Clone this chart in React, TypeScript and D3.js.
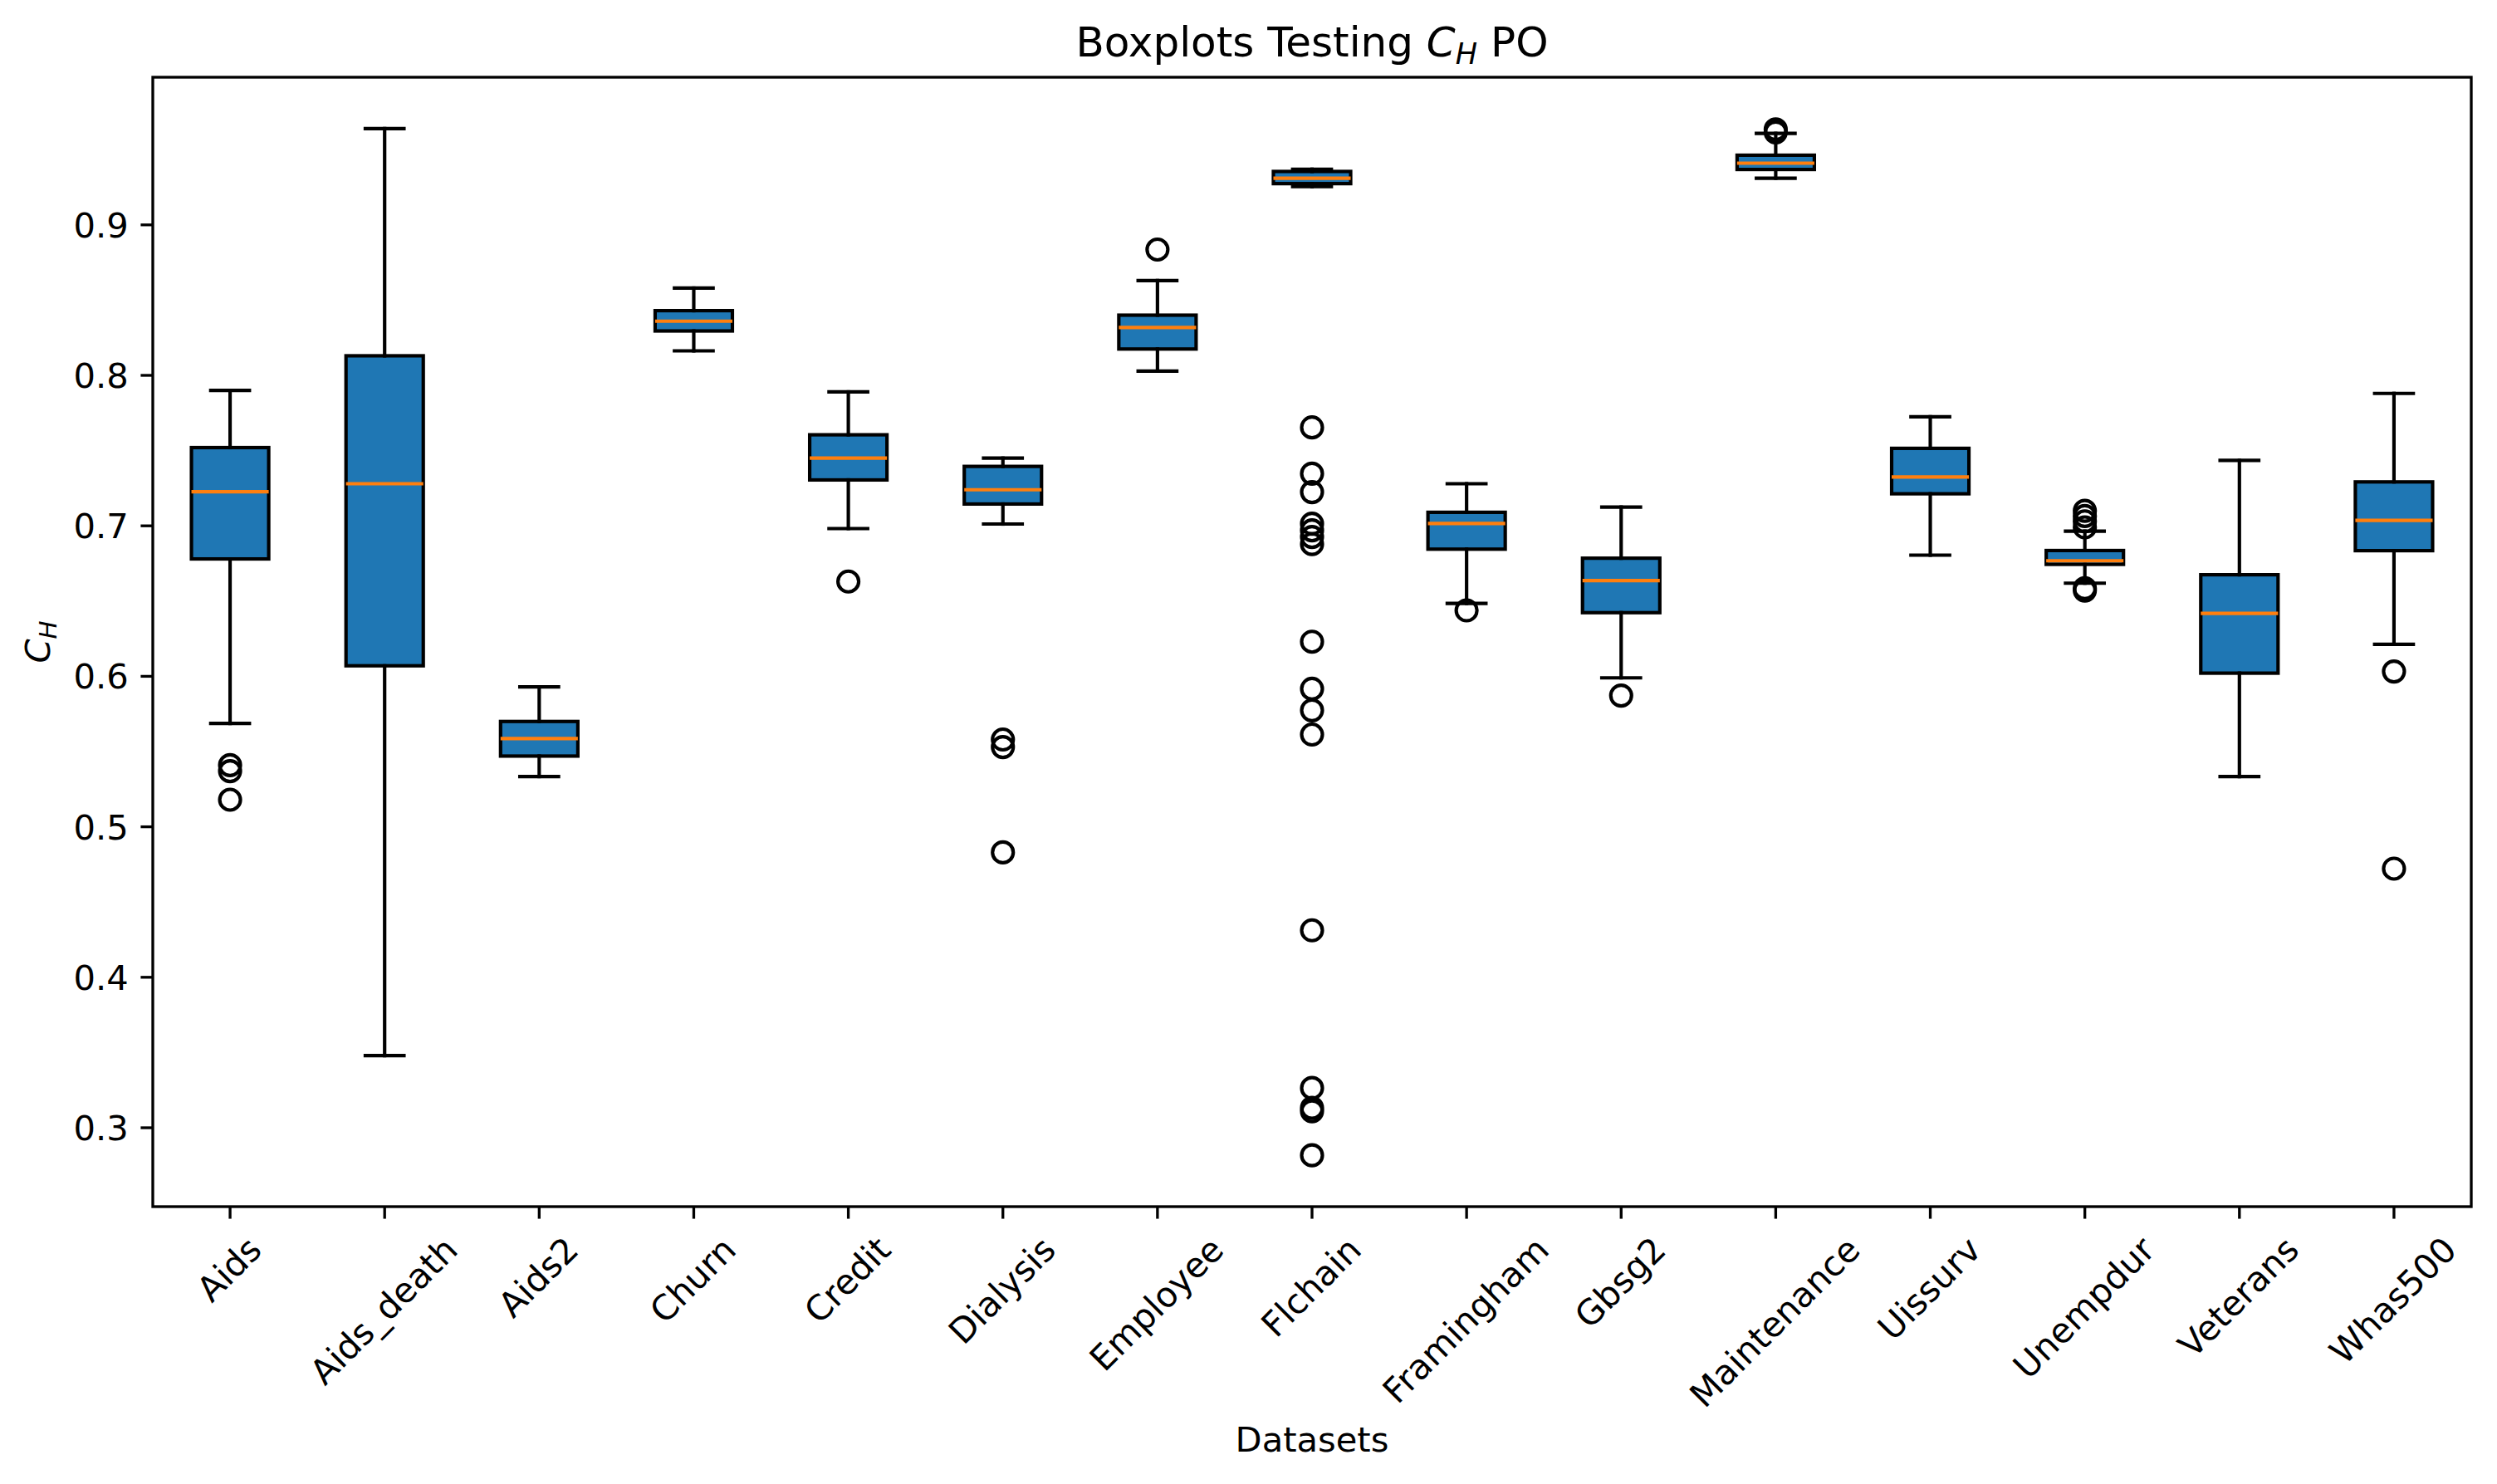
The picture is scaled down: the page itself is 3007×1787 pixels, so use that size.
import React from 'react';
import * as d3 from 'd3';

const categories = ['Aids', 'Aids_death', 'Aids2', 'Churn', 'Credit', 'Dialysis', 'Employee', 'Flchain', 'Framingham', 'Gbsg2', 'Maintenance', 'Uissurv', 'Unempdur', 'Veterans', 'Whas500'];
const whiskerHigh = [0.790, 0.964, 0.593, 0.858, 0.789, 0.745, 0.863, 0.937, 0.728, 0.7125, 0.9608, 0.7725, 0.6965, 0.7435, 0.788];
const q3 = [0.752, 0.813, 0.570, 0.843, 0.7605, 0.7395, 0.840, 0.9355, 0.709, 0.6785, 0.9463, 0.7515, 0.6836, 0.6675, 0.7292];
const median = [0.7227, 0.728, 0.5586, 0.836, 0.745, 0.724, 0.8318, 0.931, 0.7016, 0.6636, 0.941, 0.7325, 0.6768, 0.6418, 0.7036];
const q1 = [0.678, 0.607, 0.547, 0.8295, 0.7305, 0.7145, 0.8175, 0.9274, 0.6845, 0.6423, 0.9368, 0.7213, 0.6744, 0.6021, 0.6835];
const whiskerLow = [0.5687, 0.348, 0.5334, 0.8163, 0.6982, 0.7012, 0.8028, 0.9254, 0.6484, 0.599, 0.931, 0.6805, 0.6619, 0.5334, 0.6213];
const outliers = [
  [0.541, 0.537, 0.518],
  [],
  [],
  [],
  [0.663],
  [0.558, 0.553, 0.483],
  [0.8836],
  [0.7654, 0.7347, 0.7224, 0.7014, 0.697, 0.6926, 0.6879, 0.623, 0.5917, 0.5774, 0.5613, 0.4312, 0.3264, 0.3132, 0.311, 0.2817],
  [0.6438],
  [0.5872],
  [0.9635, 0.9615],
  [],
  [0.710, 0.7065, 0.703, 0.699, 0.6585, 0.657],
  [],
  [0.6032, 0.4722],
];

const W = 3007;
const H = 1787;
const LEFT = 184;
const RIGHT = 2976;
const TOP = 93;
const BOTTOM = 1453;
const PT = 300 / 72;
const FONT = '"DejaVu Sans", "Liberation Sans", sans-serif';
const TICK_FS = 10 * PT;
const TITLE_FS = 12 * PT;
const BOX_COLOR = '#1f77b4';
const MEDIAN_COLOR = '#ff7f0e';

let measureCtx: CanvasRenderingContext2D | null = null;
function textWidth(s: string, fs: number): number {
  if (!measureCtx) {
    const c = document.createElement('canvas');
    measureCtx = c.getContext('2d');
  }
  if (!measureCtx) return s.length * fs * 0.6;
  measureCtx.font = `${fs}px "DejaVu Sans"`;
  return measureCtx.measureText(s).width;
}

export default function App() {
  const x = d3.scaleLinear().domain([0.5, categories.length + 0.5]).range([LEFT, RIGHT]);
  const allVals = [...whiskerLow, ...whiskerHigh, ...outliers.flat()];
  const mn = d3.min(allVals) as number;
  const mx = d3.max(allVals) as number;
  const pad = (mx - mn) * 0.05;
  const y = d3.scaleLinear().domain([mn - pad, mx + pad]).range([BOTTOM, TOP]);
  const yTicks = y.ticks(10).filter((t) => t >= 0.3 - 1e-9);
  const fmt = d3.format('.1f');

  const lw = 1 * PT;
  const halfBox = 0.25;
  const halfCap = 0.125;
  const tickLen = 3.5 * PT;
  const tickPad = 3.5 * PT;
  const spineW = 0.8 * PT;
  const r = 3 * PT;

  const labelTop = BOTTOM + tickLen + tickPad;
  const hLine = TICK_FS * 1.1;

  return (
    <svg
      width={W}
      height={H}
      viewBox={`0 0 ${W} ${H}`}
      style={{ position: 'absolute', left: 0, top: 0, display: 'block' }}
      fontFamily={FONT}
    >
      <rect x={0} y={0} width={W} height={H} fill="#ffffff" />

      {/* boxes */}
      {categories.map((c, i) => {
        const p = i + 1;
        const x0 = x(p - halfBox);
        const x1 = x(p + halfBox);
        return (
          <rect
            key={'box' + c}
            x={x0}
            y={y(q3[i])}
            width={x1 - x0}
            height={y(q1[i]) - y(q3[i])}
            fill={BOX_COLOR}
            stroke="#000"
            strokeWidth={lw}
            strokeLinejoin="miter"
          />
        );
      })}

      {/* whiskers, caps, medians */}
      {categories.map((c, i) => {
        const p = i + 1;
        const cx = x(p);
        return (
          <g key={'wh' + c} stroke="#000" strokeWidth={lw} strokeLinecap="square">
            <line x1={cx} x2={cx} y1={y(q1[i])} y2={y(whiskerLow[i])} />
            <line x1={cx} x2={cx} y1={y(q3[i])} y2={y(whiskerHigh[i])} />
            <line x1={x(p - halfCap)} x2={x(p + halfCap)} y1={y(whiskerLow[i])} y2={y(whiskerLow[i])} />
            <line x1={x(p - halfCap)} x2={x(p + halfCap)} y1={y(whiskerHigh[i])} y2={y(whiskerHigh[i])} />
            <line
              x1={x(p - halfBox)}
              x2={x(p + halfBox)}
              y1={y(median[i])}
              y2={y(median[i])}
              stroke={MEDIAN_COLOR}
              strokeLinecap="butt"
            />
          </g>
        );
      })}

      {/* fliers */}
      {categories.map((c, i) => (
        <g key={'fl' + c}>
          {outliers[i].map((v, j) => (
            <circle key={j} cx={x(i + 1)} cy={y(v)} r={r} fill="none" stroke="#000" strokeWidth={lw} />
          ))}
        </g>
      ))}

      {/* spines */}
      <rect
        x={LEFT}
        y={TOP}
        width={RIGHT - LEFT}
        height={BOTTOM - TOP}
        fill="none"
        stroke="#000"
        strokeWidth={spineW}
        strokeLinejoin="miter"
      />

      {/* y ticks */}
      {yTicks.map((t) => (
        <g key={'yt' + t}>
          <line x1={LEFT - tickLen} x2={LEFT} y1={y(t)} y2={y(t)} stroke="#000" strokeWidth={spineW} />
          <text
            x={LEFT - tickLen - tickPad}
            y={y(t)}
            dy="0.36em"
            textAnchor="end"
            fontSize={TICK_FS}
            fill="#000"
          >
            {fmt(t)}
          </text>
        </g>
      ))}

      {/* x ticks */}
      {categories.map((c, i) => {
        const cx = x(i + 1);
        const w = textWidth(c, TICK_FS);
        const side = (w + hLine) / Math.SQRT2;
        const cy = labelTop + side / 2;
        return (
          <g key={'xt' + c}>
            <line x1={cx} x2={cx} y1={BOTTOM} y2={BOTTOM + tickLen} stroke="#000" strokeWidth={spineW} />
            <text
              transform={`translate(${cx},${cy}) rotate(-45)`}
              x={0}
              y={0}
              dy="0.31em"
              textAnchor="middle"
              fontSize={TICK_FS}
              fill="#000"
            >
              {c}
            </text>
          </g>
        );
      })}

      {/* title */}
      <text x={(LEFT + RIGHT) / 2} y={68} textAnchor="middle" fontSize={TITLE_FS} fill="#000" style={{ whiteSpace: 'pre' }}>
        <tspan>Boxplots Testing </tspan>
        <tspan fontStyle="italic">C</tspan>
        <tspan fontStyle="italic" fontSize={TITLE_FS * 0.7} dy={TITLE_FS * 0.18}>H</tspan>
        <tspan dy={-TITLE_FS * 0.18}> PO</tspan>
      </text>

      {/* x label */}
      <text x={(LEFT + RIGHT) / 2} y={1748} textAnchor="middle" fontSize={TICK_FS} fill="#000">
        Datasets
      </text>

      {/* y label */}
      <text
        transform={`translate(60,${(TOP + BOTTOM) / 2}) rotate(-90)`}
        textAnchor="middle"
        fontSize={TICK_FS}
        fill="#000"
      >
        <tspan fontStyle="italic">C</tspan>
        <tspan fontStyle="italic" fontSize={TICK_FS * 0.7} dy={TICK_FS * 0.18}>H</tspan>
      </text>
    </svg>
  );
}
